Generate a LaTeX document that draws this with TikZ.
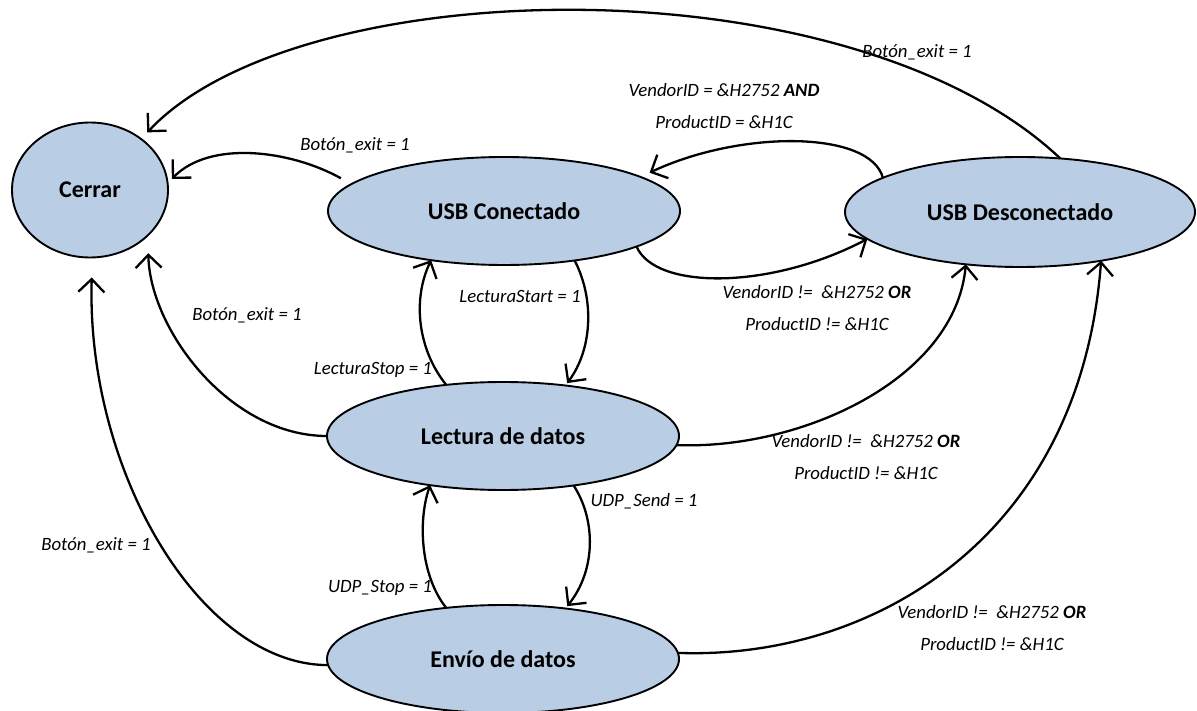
\documentclass[tikz,border=0pt]{standalone}
\usepackage{fontspec}
\setmainfont{Carlito}
\usetikzlibrary{arrows.meta,shapes.geometric}
\definecolor{stateblue}{RGB}{185,205,229}
\begin{document}
\begin{tikzpicture}[x=1pt,y=-1pt,
  state/.style={ellipse, draw=black, fill=stateblue, line width=1.9pt, inner sep=0pt, outer sep=0pt,
    minimum width=352pt, minimum height=108pt, font=\fontsize{24}{28}\selectfont\bfseries},
  lbl/.style={font=\fontsize{18.8}{32}\selectfont\itshape, align=center, inner sep=0pt},
  arr/.style={line width=2.3pt, -{Straight Barb[length=13pt,width=26pt]}},
]
\useasboundingbox (0,0) rectangle (1197,711);
\fill[white] (0,0) rectangle (1197,711);

% states
\node[state, minimum width=156pt, minimum height=135pt] (cerrar) at (90,190) {Cerrar};
\node[state] (conn) at (504,211) {USB Conectado};
\node[state, minimum width=350pt, minimum height=110pt] (desc) at (1020,212) {USB Desconectado};
\node[state] (lect) at (503,436) {Lectura de datos};
\node[state] (envio) at (503,659) {Envío de datos};

% transitions
\draw[arr, shorten >=9pt] (desc.53) .. controls (850,-40) and (300,-30) .. (cerrar.45);
\draw[arr, shorten <=12pt, shorten >=6pt] (conn.170) .. controls (290,150) and (210,140) .. (cerrar.5);
\draw[arr, shorten >=10pt] (desc.166) .. controls (870,130) and (740,130) .. (conn.14);
\draw[arr] (conn.-15) .. controls (655,290) and (770,290) .. (desc.190);
\draw[arr, shorten >=3pt] (conn.-35) .. controls (595,300) and (592,350) .. (lect.39);
\draw[arr] (lect.138) .. controls (418,350) and (412,300) .. (conn.214);
\draw[arr, shorten >=3pt] (lect.-35) .. controls (596,520) and (596,570) .. (envio.39);
\draw[arr] (envio.138) .. controls (420,575) and (418,520) .. (lect.214);
\draw[arr, shorten >=18pt] (lect.180) .. controls (230,436) and (150,330) .. (cerrar.-38);
\draw[arr, shorten >=20pt] (envio.182) .. controls (200,665) and (86,470) .. (cerrar.-88);
\draw[arr] (lect.-3) .. controls (800,450) and (955,380) .. (desc.224);
\draw[arr] (envio.2) .. controls (870,660) and (1080,540) .. (desc.-31);

% labels
\node[lbl] (l1) at (917,52) {Botón\_exit = 1};
\node[lbl] (l2) at (355,145) {Botón\_exit = 1};
\node[lbl] (l3) at (724,106) {VendorID = \&H2752 \textbf{AND}\\ProductID = \&H1C};
\node[lbl] (l4) at (817,308) {VendorID != \ \&H2752 \textbf{OR}\\ProductID != \&H1C};
\node[lbl] (l5) at (520,296) {LecturaStart = 1};
\node[lbl] (l6) at (373,370) {LecturaStop = 1};
\node[lbl] (l7) at (247,315) {Botón\_exit = 1};
\node[lbl] (l8) at (866,457) {VendorID != \ \&H2752 \textbf{OR}\\ProductID != \&H1C};
\node[lbl] (l9) at (644,501) {UDP\_Send = 1};
\node[lbl] (l10) at (380,588) {UDP\_Stop = 1};
\node[lbl] (l11) at (96,545) {Botón\_exit = 1};
\node[lbl] (l12) at (992,628) {VendorID != \ \&H2752 \textbf{OR}\\ProductID != \&H1C};
\end{tikzpicture}
\end{document}
